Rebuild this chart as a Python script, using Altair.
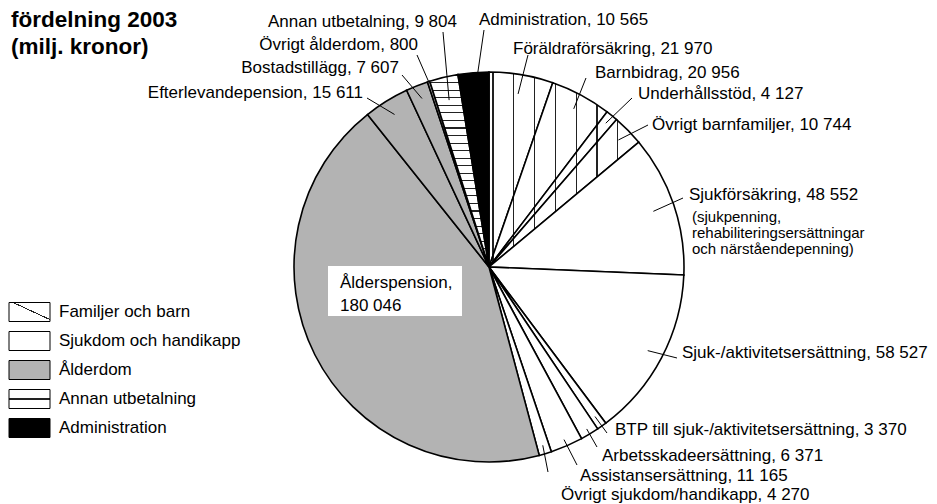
import math
import altair as alt
import pandas as pd

# ---------------- data ----------------
NAMES = ["Föräldraförsäkring", "Barnbidrag", "Underhållsstöd", "Övrigt barnfamiljer",
         "Sjukförsäkring", "Sjuk-/aktivitetsersättning", "BTP till sjuk-/aktivitetsersättning",
         "Arbetsskadeersättning", "Assistansersättning", "Övrigt sjukdom/handikapp",
         "Ålderspension", "Efterlevandepension", "Bostadstillägg", "Övrigt ålderdom",
         "Annan utbetalning", "Administration"]
VALUES = [21970, 20956, 4127, 10744, 48552, 58527, 3370, 6371, 11165, 4270,
          180046, 15611, 7607, 800, 9804, 10565]
GROUP_OF = [0, 0, 0, 0, 1, 1, 1, 1, 1, 1, 2, 2, 2, 2, 3, 4]
GROUPS = ["Familjer och barn", "Sjukdom och handikapp", "Ålderdom",
          "Annan utbetalning", "Administration"]
TITLE = ["fördelning 2003", "(milj. kronor)"]
SJUK_NOTE = ["(sjukpenning,", "rehabiliteringsersättningar", "och närståendepenning)"]

# ---------------- layout / style ----------------
W, H, OFF = 921, 496, 8          # plot size, page margin
CX, CY, R = 489, 267, 195         # pie centre / radius (page px)
FONT = "Liberation Sans"
GRAY = "#b3b3b3"
LABEL_SIZE, NOTE_SIZE, TITLE_SIZE = 17, 15, 22.5

# label anchor (x, y, align) per slice, page px
LABEL_POS = [(513, 49, "left"), (595, 73, "left"), (638, 94, "left"), (652, 125, "left"),
             (689, 195, "left"), (682, 353, "left"), (615, 430, "left"), (602, 456, "left"),
             (580, 476, "left"), (561, 495, "left"), (340, 283, "left"), (363, 93, "right"),
             (399, 68, "right"), (418, 45, "right"), (457, 22, "right"), (479, 20, "left")]
LEADER_OUT = [(528, 55), (586, 78), (632, 98), (648, 125), (683, 198), (677, 358),
              (607, 433), (597, 447), (577, 465), (548, 472), None, (367, 98),
              (402, 75), (417, 55), (443, 32), (484, 30)]
LEADER_RIN = [0.90, 0.92, 0.95, 0.93, 0.89, 0.92, 0.94, 0.97, 0.965, 0.955, 0,
              0.92, 0.93, 1.0, 0.88, 0.90]
NOTE_X, NOTE_Y0, NOTE_STEP = 692, 217, 16
ALDER_BOX = (328, 266, 462, 316)
ALDER_LINE_STEP = 23
TITLE_X, TITLE_Y0, TITLE_STEP = 11, 20, 27
LEG_X0, LEG_X1, LEG_TX, LEG_Y0, LEG_STEP, LEG_H = 9, 50, 59, 312, 29, 19
VSTRIPE = (493.0, 20.8, 1.3)      # origin, spacing, width  (family hatch)
HSTRIPE = (82.7, 7.55, 1.1)       # origin, spacing, width  (annan hatch)

TOTAL = sum(VALUES)


def fmt(v):
    return f"{v:,}".replace(",", " ")


def wedge_bbox(a0, a1):
    pts = [(0.0, 0.0)]
    n = 720
    for k in range(n + 1):
        a = math.radians(a0 + (a1 - a0) * k / n)
        pts.append((R * math.sin(a), -R * math.cos(a)))
    xs = [CX + p[0] for p in pts]
    ys = [CY + p[1] for p in pts]
    return min(xs), max(xs), min(ys), max(ys)


def stripe_stops(lo, hi, origin, spacing, lw, color="#222222", bg="white"):
    span = hi - lo
    stops = [alt.GradientStop(offset=0, color=bg)]
    k = math.floor((lo - origin) / spacing) - 1
    while True:
        p = origin + k * spacing
        if p - lw / 2 > hi:
            break
        a = max(0.0, (p - lw / 2 - lo) / span)
        b = min(1.0, (p + lw / 2 - lo) / span)
        if b > a and a < 1 and b > 0:
            stops += [alt.GradientStop(offset=a, color=bg), alt.GradientStop(offset=a, color=color),
                      alt.GradientStop(offset=b, color=color), alt.GradientStop(offset=b, color=bg)]
        k += 1
    stops.append(alt.GradientStop(offset=1, color=bg))
    return stops


# angles of slices (for hatch geometry only)
angles = []
acc = 0
for v in VALUES:
    angles.append((acc / TOTAL * 360, (acc + v) / TOTAL * 360))
    acc += v


def slice_fill(i):
    g = GROUP_OF[i]
    a0, a1 = angles[i]
    x0, x1, y0, y1 = wedge_bbox(a0, a1)
    if g == 0:
        o, s, w = VSTRIPE
        return alt.LinearGradient(gradient="linear", x1=0, y1=0, x2=1, y2=0,
                                  stops=stripe_stops(x0, x1, o, s, w))
    if g == 3:
        o, s, w = HSTRIPE
        return alt.LinearGradient(gradient="linear", x1=0, y1=0, x2=0, y2=1,
                                  stops=stripe_stops(y0, y1, o, s, w))
    return {1: "white", 2: GRAY, 4: "black"}[g]


slices = pd.DataFrame({
    "idx": list(range(len(NAMES))),
    "name": NAMES,
    "value": VALUES,
    "rin": LEADER_RIN,
    "ox": [p[0] if p else None for p in LEADER_OUT],
    "oy": [p[1] if p else None for p in LEADER_OUT],
})

xs = alt.Scale(domain=[OFF, OFF + W], nice=False, zero=False)
ys = alt.Scale(domain=[OFF, OFF + H], nice=False, zero=False, reverse=True)
ts = alt.Scale(domain=[0, TOTAL])

stacked = alt.Chart(slices).transform_stack(
    stack="value", groupby=[], as_=["t0", "t1"],
    sort=[alt.SortField(field="idx", order="ascending")])

layers = []
for i in range(len(NAMES)):
    layers.append(
        stacked.transform_filter(alt.datum.idx == i).mark_arc(
            radius=R, fill=slice_fill(i), stroke="black", strokeWidth=1.6
        ).encode(theta=alt.Theta("t0:Q", scale=ts), theta2="t1:Q",
                 x=alt.value(CX - OFF), y=alt.value(CY - OFF))
    )

# white box behind Ålderspension label
box = pd.DataFrame({"x": [ALDER_BOX[0]], "y": [ALDER_BOX[1]], "x2": [ALDER_BOX[2]], "y2": [ALDER_BOX[3]]})
layers.append(alt.Chart(box).mark_rect(fill="white").encode(
    x=alt.X("x:Q", scale=xs, axis=None), x2="x2:Q",
    y=alt.Y("y:Q", scale=ys, axis=None), y2="y2:Q"))

# leader lines (inner end at slice mid-angle)
layers.append(
    stacked.transform_filter("datum.rin > 0").transform_calculate(
        ang=f"PI*(datum.t0+datum.t1)/{TOTAL}",
        lx=f"{CX}+{R}*datum.rin*sin(datum.ang)",
        ly=f"{CY}-{R}*datum.rin*cos(datum.ang)",
    ).mark_rule(stroke="black", strokeWidth=1).encode(
        x=alt.X("lx:Q", scale=xs, axis=None), y=alt.Y("ly:Q", scale=ys, axis=None),
        x2="ox:Q", y2="oy:Q")
)

# labels
rows = []
for i, (n, v) in enumerate(zip(NAMES, VALUES)):
    x, y, al = LABEL_POS[i]
    if i == 10:
        rows.append({"text": n + ",", "x": x, "y": y, "align": al, "size": LABEL_SIZE})
        rows.append({"text": fmt(v), "x": x, "y": y + ALDER_LINE_STEP, "align": al, "size": LABEL_SIZE})
    else:
        rows.append({"text": f"{n}, {fmt(v)}", "x": x, "y": y, "align": al, "size": LABEL_SIZE})
for k, t in enumerate(SJUK_NOTE):
    rows.append({"text": t, "x": NOTE_X, "y": NOTE_Y0 + k * NOTE_STEP, "align": "left", "size": NOTE_SIZE})
for k, g in enumerate(GROUPS):
    rows.append({"text": g, "x": LEG_TX, "y": LEG_Y0 + k * LEG_STEP, "align": "left", "size": LABEL_SIZE})
labels = pd.DataFrame(rows)

for al in ["left", "right"]:
    layers.append(
        alt.Chart(labels).transform_filter(alt.datum.align == al).mark_text(
            align=al, baseline="middle", font=FONT, color="black"
        ).encode(x=alt.X("x:Q", scale=xs, axis=None), y=alt.Y("y:Q", scale=ys, axis=None),
                 text="text:N", size=alt.Size("size:Q", scale=None))
    )

title = pd.DataFrame({"text": TITLE, "x": [TITLE_X] * len(TITLE),
                      "y": [TITLE_Y0 + k * TITLE_STEP for k in range(len(TITLE))]})
layers.append(alt.Chart(title).mark_text(
    align="left", baseline="middle", font=FONT, fontWeight="bold", fontSize=TITLE_SIZE, color="black"
).encode(x=alt.X("x:Q", scale=xs, axis=None), y=alt.Y("y:Q", scale=ys, axis=None), text="text:N"))

# legend boxes
leg = pd.DataFrame({"k": list(range(len(GROUPS))),
                    "x": [LEG_X0] * len(GROUPS), "x2": [LEG_X1] * len(GROUPS),
                    "y": [LEG_Y0 + k * LEG_STEP - LEG_H / 2 for k in range(len(GROUPS))],
                    "y2": [LEG_Y0 + k * LEG_STEP + LEG_H / 2 for k in range(len(GROUPS))]})


def diag_stops(centers, w, color="#222222", bg="white"):
    st = [alt.GradientStop(offset=0, color=bg)]
    for c in centers:
        st += [alt.GradientStop(offset=c - w / 2, color=bg), alt.GradientStop(offset=c - w / 2, color=color),
               alt.GradientStop(offset=c + w / 2, color=color), alt.GradientStop(offset=c + w / 2, color=bg)]
    st.append(alt.GradientStop(offset=1, color=bg))
    return st


leg_fills = [
    alt.LinearGradient(gradient="linear", x1=0, y1=1, x2=1, y2=0, stops=diag_stops([0.55], 0.03)),
    "white",
    GRAY,
    alt.LinearGradient(gradient="linear", x1=0, y1=0, x2=0, y2=1, stops=diag_stops([0.5], 0.06)),
    "black",
]
for k in range(len(GROUPS)):
    layers.append(alt.Chart(leg).transform_filter(alt.datum.k == k).mark_rect(
        fill=leg_fills[k], stroke="black", strokeWidth=1
    ).encode(x=alt.X("x:Q", scale=xs, axis=None), x2="x2:Q",
             y=alt.Y("y:Q", scale=ys, axis=None), y2="y2:Q"))

chart = alt.layer(*layers).properties(
    width=W, height=H, padding=0, autosize=alt.AutoSizeParams(type="none"), background="white"
).configure_view(stroke=None)

chart.save("out.html", embed_options={"renderer": "svg", "actions": False})
